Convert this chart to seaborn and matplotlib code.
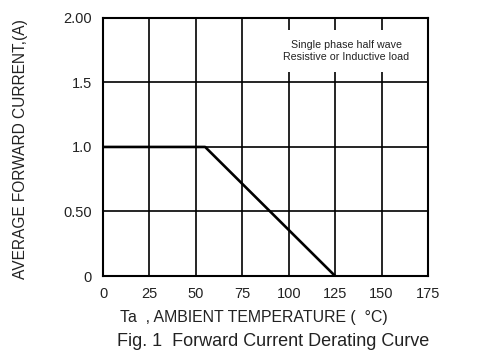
import numpy as np
import pandas as pd
import matplotlib
matplotlib.use("Agg")
import matplotlib.pyplot as plt
import seaborn as sns

# Curva de derating (lectura de la figura)
temp_c = [0, 55, 125]
corriente_a = [1.0, 1.0, 0.0]

x_ticks = [0, 25, 50, 75, 100, 125, 150, 175]
y_ticks = [0, 0.5, 1.0, 1.5, 2.0]
y_tick_labels = ["0", "0.50", "1.0", "1.5", "2.00"]

nota = "Single phase half wave\nResistive or Inductive load"

sns.set_style("white")
plt.rcParams['font.family'] = ['Liberation Sans', 'DejaVu Sans']
txt = '#222222'

fig = plt.figure(figsize=(5.0, 3.58), dpi=100)
ax = fig.add_axes([0.206, 0.229, 0.65, 0.721])

df = pd.DataFrame({'temp': temp_c, 'corriente': corriente_a})
sns.lineplot(data=df, x='temp', y='corriente', ax=ax, color='black',
             linewidth=1.9, zorder=4)

ax.set_xlim(0, 175)
ax.set_ylim(0, 2.0)
ax.set_xticks(x_ticks)
ax.set_yticks(y_ticks)
ax.set_yticklabels(y_tick_labels)
ax.grid(True, color='black', linewidth=1.2)
ax.set_axisbelow(True)
for s in ax.spines.values():
    s.set_color('black')
    s.set_linewidth(1.5)
ax.tick_params(axis='both', length=0, labelsize=10.5, colors=txt, pad=8)

ax.text(131, 1.745, nota, ha='center', va='center', fontsize=7.7, color=txt,
        linespacing=1.3, zorder=5,
        bbox=dict(facecolor='white', edgecolor='none', pad=7))

ax.set_xlabel("Ta  , AMBIENT TEMPERATURE (  °C)", fontsize=11.4, color=txt)
ax.xaxis.set_label_coords(0.465, -0.13)
ax.set_ylabel("AVERAGE FORWARD CURRENT,(A)", fontsize=11.2, color=txt)
ax.yaxis.set_label_coords(-0.23, 0.49)
fig.text(0.546, 0.045, "Fig. 1  Forward Current Derating Curve", ha='center',
         va='center', fontsize=13, color=txt)

fig.savefig('out.png', dpi=100, facecolor='white')
